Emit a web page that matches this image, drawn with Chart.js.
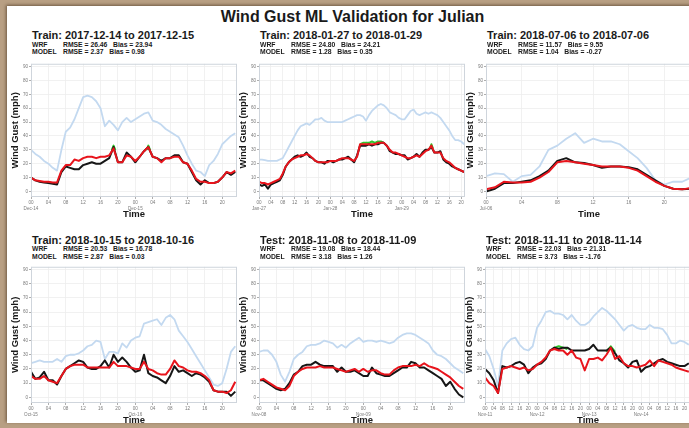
<!DOCTYPE html>
<html>
<head>
<meta charset="utf-8">
<script src="https://cdn.jsdelivr.net/npm/chart.js@4.4.1/dist/chart.umd.min.js"></script>
<style>
  html, body { margin: 0; padding: 0; }
  body { width: 689px; height: 428px; background: #b89f83; position: relative; overflow: hidden;
         font-family: "Liberation Sans", Arial, sans-serif; }
  #sheet { position: absolute; left: 7px; top: 6px; width: 700px; height: 417px; background: #fff;
           box-shadow: -1px -1px 3px rgba(60, 40, 20, 0.6); }
  .t { position: absolute; white-space: pre; font-weight: bold; color: #1a1a1a; line-height: 1; }
  canvas { position: absolute; }
</style>
</head>
<body>
<div id="sheet"></div>
<div class="t" style="font-size:16px; left:0; width:705px; text-align:center; top:9px;">Wind Gust ML Validation for Julian</div>

<script>
// ---- data (hourly unless noted) ----
const yTicks = [0, 10, 20, 30, 40, 50, 60, 70, 80, 90];

const titles = [
  'Train: 2017-12-14 to 2017-12-15',
  'Train: 2018-01-27 to 2018-01-29',
  'Train: 2018-07-06 to 2018-07-06',
  'Train: 2018-10-15 to 2018-10-16',
  'Test: 2018-11-08 to 2018-11-09',
  'Test: 2018-11-11 to 2018-11-14'
];
const wrfStats = ['RMSE = 26.46   Bias = 23.94', 'RMSE = 24.80   Bias = 24.21', 'RMSE = 11.57   Bias = 9.55',
                  'RMSE = 20.53   Bias = 16.78', 'RMSE = 19.08   Bias = 18.44', 'RMSE = 22.03   Bias = 21.31'];
const modelStats = ['RMSE = 2.37   Bias = 0.98', 'RMSE = 1.28   Bias = 0.35', 'RMSE = 1.04   Bias = -0.27',
                    'RMSE = 2.87   Bias = 0.03', 'RMSE = 3.18   Bias = 1.26', 'RMSE = 3.73   Bias = -1.76'];

const p1Dates = ['Dec-14', 'Dec-15'];
const p1Wrf = [30,27,25,22,20,17,15,30,43,46,52,60,68,69,68,65,60,47,51,48,44,50,53,50,52,54,56,57,51,50,48,45,43,41,39,33,26,20,15,14,11,19,22,27,34,37,40,42];
const p1Obs = [10,8,7,6.5,6,5.5,5,14,18,17,16,16,19,20,21,20,20,22,24,32,21,21,28,25,21,25,29,32,25,24,22,24,24,26,26,21,20,14,8,5,8,6,6,7,10,14,12,14];
const p1Model = [10,8,7.5,7,7,6.5,6.5,15,19,19,23,22,24,25,25,24,25,25,26,31,21,21,26,25,22,25,29,32,25,24,21,24,24,25,25,21,20,15,9,7,7,6,6,7,10,14,13,15];
const p1GreenHours = [18.6, 19, 19.4, 23, 26.6, 27, 27.4];
const p1GreenVals = [30, 33, 30, null, 30, 33, 30];

const p2Dates = ['Jan-27', 'Jan-28', 'Jan-29'];
const p2Wrf = [23,23,22.5,22,22,22,22,23,24,28,32,36,40,44,47,48,49,48,50,52,52,53,51,50,50,50,50,50,50,51,52,53,54,55,55,54,51,55,58,60,62,63,62,60,57,56,55,53,52,52,55,58,59,56,55,56,57,56,57,56,55,53,50,47,44,40,37,37,36,34];
const p2Obs = [5,4,5,2,5,6,7,8,12,18,21,23,25,26,25,26,28,25,24,22,21,21,20,22,22,21,22,23,23,24,25,23,21,26,33,33,33,34,33,34,34,35,35,33,29,28,27,27,26,26,23,24,25,27,25,28,30,30,32,28,28,29,23,21,20,18,17,16,15,14];
const p2Model = [7,6,6,5,6,7,8,9,13,18,21,23,24,25,26,26,27,26,24,22,21,21,21,21,22,22,22,23,24,24,24,23,22,25,34,34,34,34,34,34,35,35,35,33,30,28,28,27,26,25,24,24,25,26,25,27,29,30,33,28,28,28,24,22,21,19,17,16,15,14];
const p2GreenHours = [34, 35, 36, 37, 38, 39, 40, 41, 42, 50, 57.5, 58, 58.5];
const p2GreenVals = [34, 35, 35, 35, 36, 35, 36, 36, 35, null, 31, 34, 31];

const p3Dates = ['Jul-06'];
const p3Wrf = [11,13,12.5,7,11,12,18,30,33,38,42,35,38,36,36,34,29,24,17,8,5,7,7,10];
const p3Obs = [0,2,6,6,7,8,11,15,22,24,21,20.5,19,17,18,18,17.5,16,12,8,4,2,1.5,2];
const p3Model = [1.5,3,7,6.5,6.5,7,10,14,21,22,21,20,19,18,18,18,17,15,11,7,4,2,1.5,2.5];

const p4Dates = ['Oct-15', 'Oct-16'];
const p4Wrf = [24,25,26,25,25,25,27,25,29,30,30,31,33,36,37,40,39,27,32,32,31,38,35,40,42,43,52,53,54,55,51,56,58,55,47,43,39,34,29,24,19,14,9,8,10,20,32,36];
const p4Obs = [18,13,14,18,12,12,9,15,20,22,24,26,25,21,20,20,22,26,21,30,25,28,25,21,18,19,30,17,15,14,12,10,15,22,18,19,17,15,17,16,14,11,5,4,4,4,1,4];
const p4Model = [15,13,13,15,12,11,10,15,20,22,23,23,23,21,21,21,21,21,21,25,22,22,22,21,20,20,25,20,19,17,16,16,20,26,22,21,19,18,18,17,15,12,5,4,4,3,5,11];

const p5Dates = ['Nov-08', 'Nov-09'];
const p5Wrf = [32,33,33,30,25,16,11,18,27,30,32,36,37,37,38,40,39,38,35,37,35,38,40,42,39,40,40,39,40,39,38,39,42,44,45,45,44,42,40,38,33,30,29,27,24,21,19,17];
const p5Obs = [12,12,10,8,6,5,6,10,16,18,22,23,23,25,23,22,22,22,18,21,18,18,19,17,15,15,21,17,16,15,15,17,19,21,21,25,24,21,21,19,17,15,13,8,11,6,2,0];
const p5Model = [12,13,11,9,7,6,5,8,15,18,20,21,21,21,22,21,21,21,20,19,18,19,20,18,20,18,19,19,17,16,16,19,21,22,22,22,23,22,24,22,21,20,18,16,14,11,8,6];

// panel 6 read every 2 hours
const p6Dates = ['Nov-11', 'Nov-12', 'Nov-13', 'Nov-14'];
const p6Wrf = [34,29,20,8,33,38,41,42,37,34,33,36,49,54,60,61,59,59,58,55,58,54,51,51,53,57,60,63,61,58,55,51,47,50,51,49,48,48,51,49,49,48,44,38,38,40,39,37];
const p6Obs = [20,17,12,3,22,21,22,24,25,23,17,21,23,24,27,33,35,34,35,35,33,33,33,33,34,37,33,33,33,35,31,26,24,21,25,26,18,21,22,24,26,27,25,24,23,22,22,24];
const p6Model = [14,10,8,3,20,21,22,21,20,21,19,20,23,25,28,33,34,33,33,30,33,28,27,19,27,27,28,26,30,35,27,29,24,22,22,21,22,23,26,22,26,25,24,23,21,20,19,18];
const p6GreenHours = [32, 34, 36, 38, 46, 56, 58, 60];
const p6GreenVals = [35, 36, 35, 34, null, 32, 36, 32];

const family = '"Liberation Sans", Arial, sans-serif';

const boxPlugin = {
  id: 'box',
  afterDraw(chart) {
    const a = chart.chartArea, ctx = chart.ctx;
    ctx.save();
    ctx.strokeStyle = '#cfd5dc';
    ctx.lineWidth = 1;
    ctx.strokeRect(a.left + 0.5, a.top + 0.5, a.right - a.left - 1, a.bottom - a.top - 1);
    ctx.restore();
  }
};

function text(str, left, top, size) {
  const d = document.createElement('div');
  d.className = 't';
  d.style.left = left + 'px';
  d.style.top = top + 'px';
  d.style.fontSize = size + 'px';
  d.textContent = str;
  document.body.appendChild(d);
}

function series(vals, step) {
  return vals.map((v, i) => ({ x: i * step, y: v }));
}

function panel(p) {
  const i = p.index;
  const ty = p.row === 0 ? 30 : 234.6;
  text(titles[i], p.plotLeft + 1, ty, 11);
  text('WRF', p.plotLeft + 1, ty + 11.5, 6.8);
  text(wrfStats[i], p.plotLeft + 32, ty + 11.5, 6.8);
  text('MODEL', p.plotLeft + 1, ty + 19, 6.8);
  text(modelStats[i], p.plotLeft + 32, ty + 19, 6.8);

  const plotTop = p.row === 0 ? 62 : 265;
  const plotH = p.row === 0 ? 135 : 138;
  const cv = document.createElement('canvas');
  cv.width = 232;
  cv.height = 2 + plotH + 23;
  cv.style.left = (p.plotLeft - 24) + 'px';
  cv.style.top = (plotTop - 2) + 'px';
  document.body.appendChild(cv);

  const step = p.step || 1;
  const xTicks = [];
  for (let h = 0; h <= p.xMax; h += 4) xTicks.push(h);

  const datasets = [
    { data: series(p.wrf, step), borderColor: '#c3d9f0', borderWidth: 1.8, order: 3 },
    { data: series(p.obs, step), borderColor: '#161616', borderWidth: 2, order: 2 },
    { data: series(p.model, step), borderColor: '#e8141c', borderWidth: 2, order: 1 }
  ];
  if (p.greenHours) {
    datasets.push({
      data: p.greenHours.map((h, k) => ({ x: h, y: p.greenVals[k] })),
      borderColor: '#2fc42a', borderWidth: 2, order: 4, spanGaps: false
    });
  }

  new Chart(cv.getContext('2d'), {
    type: 'line',
    data: { datasets },
    options: {
      responsive: false,
      animation: false,
      devicePixelRatio: 1,
      layout: { padding: { top: 2, right: 2, left: 0, bottom: 0 } },
      plugins: { legend: { display: false }, tooltip: { enabled: false } },
      elements: { point: { radius: 0 }, line: { tension: 0, borderJoinStyle: 'round' } },
      scales: {
        x: {
          type: 'linear', min: 0, max: p.xMax,
          afterFit: (s) => { s.height = 23; },
          afterBuildTicks: (s) => { s.ticks = xTicks.map(v => ({ value: v })); },
          ticks: {
            autoSkip: false, maxRotation: 0, padding: 1, color: '#7a7a7a',
            font: { family, size: 4.6, lineHeight: 1.3 },
            callback: (v) => {
              const h = String(v % 24).padStart(2, '0');
              return v % 24 === 0 ? [h, p.dates[v / 24]] : h;
            }
          },
          grid: { color: '#eeeeee', lineWidth: 0.8, tickLength: 2, tickColor: '#999' },
          border: { display: false },
          title: { display: true, text: 'Time', color: '#1a1a1a', padding: 0,
                   font: { family, size: 9.5, weight: 'bold', lineHeight: 1.2 } }
        },
        y: {
          min: -4, max: 92,
          afterFit: (s) => { s.width = 24; },
          afterBuildTicks: (s) => { s.ticks = yTicks.map(v => ({ value: v })); },
          ticks: { padding: 1, color: '#7a7a7a', font: { family, size: 4.6 } },
          grid: { color: '#eeeeee', lineWidth: 0.8, tickLength: 2, tickColor: '#999' },
          border: { display: false },
          title: { display: true, text: 'Wind Gust (mph)', color: '#1a1a1a', padding: { top: 3, bottom: 0 },
                   font: { family, size: 9.5, weight: 'bold', lineHeight: 1.2 } }
        }
      }
    },
    plugins: [boxPlugin]
  });
}

panel({ index: 0, row: 0, plotLeft: 31, xMax: 47.4, dates: p1Dates, wrf: p1Wrf, obs: p1Obs, model: p1Model,
        greenHours: p1GreenHours, greenVals: p1GreenVals });
panel({ index: 1, row: 0, plotLeft: 259, xMax: 69.3, dates: p2Dates, wrf: p2Wrf, obs: p2Obs, model: p2Model,
        greenHours: p2GreenHours, greenVals: p2GreenVals });
panel({ index: 2, row: 0, plotLeft: 486, xMax: 23.1, dates: p3Dates, wrf: p3Wrf, obs: p3Obs, model: p3Model });
panel({ index: 3, row: 1, plotLeft: 31, xMax: 47.4, dates: p4Dates, wrf: p4Wrf, obs: p4Obs, model: p4Model });
panel({ index: 4, row: 1, plotLeft: 259, xMax: 47.4, dates: p5Dates, wrf: p5Wrf, obs: p5Obs, model: p5Model });
panel({ index: 5, row: 1, plotLeft: 485, xMax: 95, step: 2, dates: p6Dates, wrf: p6Wrf, obs: p6Obs, model: p6Model,
        greenHours: p6GreenHours, greenVals: p6GreenVals });
</script>
</body>
</html>
